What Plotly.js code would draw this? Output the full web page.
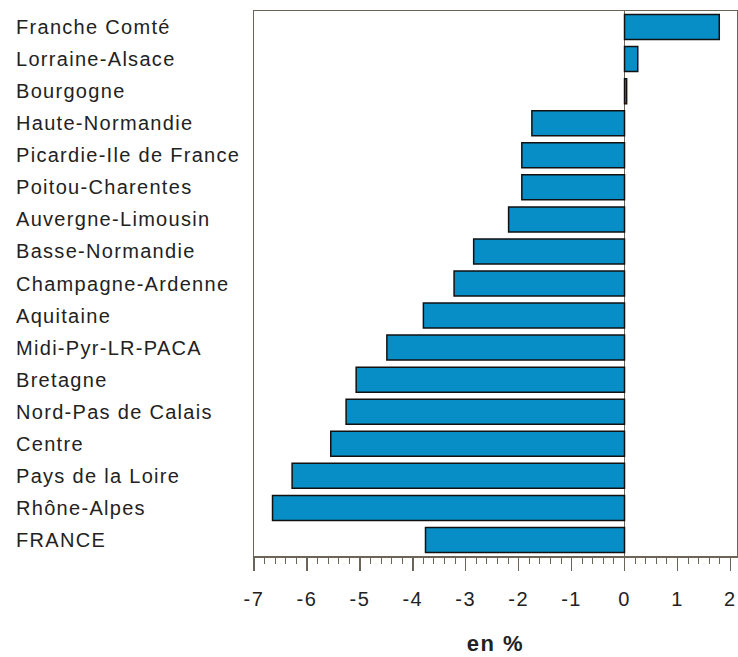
<!DOCTYPE html>
<html>
<head>
<meta charset="utf-8">
<script src="https://cdn.plot.ly/plotly-3.0.1.min.js"></script>
<style>
html,body{margin:0;padding:0;background:#fff;}
#chart{width:738px;height:657px;}
#chart .annotation-text{letter-spacing:1.3px;}
#chart .xtick text{letter-spacing:1.5px;}
#chart .xtitle{letter-spacing:1.5px;}
</style>
</head>
<body>
<div id="chart"></div>
<script>
const categories = ["Franche Comté","Lorraine-Alsace","Bourgogne","Haute-Normandie","Picardie-Ile de France","Poitou-Charentes","Auvergne-Limousin","Basse-Normandie","Champagne-Ardenne","Aquitaine","Midi-Pyr-LR-PACA","Bretagne","Nord-Pas de Calais","Centre","Pays de la Loire","Rhône-Alpes","FRANCE"];
const values = [1.79, 0.25, 0.04, -1.75, -1.94, -1.94, -2.19, -2.85, -3.22, -3.80, -4.49, -5.07, -5.26, -5.55, -6.28, -6.65, -3.76];
const xTicks = [-7,-6,-5,-4,-3,-2,-1,0,1,2];
const xTitle = "en %";

const fontFam = "Liberation Sans, Arial, sans-serif";
const trace = {
  type: "bar", orientation: "h",
  x: values, y: categories,
  marker: {color: "#078ec6", line: {color: "#111", width: 1.5}},
  hoverinfo: "none"
};
const ml = 254, mr = 1, W = 738;
const annotations = categories.map(c => ({
  text: c, x: (14 - ml) / (W - ml - mr), xref: "paper", y: c, yref: "y",
  xanchor: "left", yanchor: "middle", align: "left", showarrow: false,
  font: {family: fontFam, size: 20, color: "#222"}
}));

const layout = {
  width: 738, height: 657,
  margin: {l: ml, r: mr, t: 11, b: 101},
  paper_bgcolor: "#fff", plot_bgcolor: "#fff",
  showlegend: false,
  bargap: 0.22,
  font: {family: fontFam, color: "#222"},
  xaxis: {
    range: [-7, 2.125], tickvals: xTicks, ticktext: xTicks.map(String),
    ticks: "outside", ticklen: 13, tickcolor: "#6b6458", tickwidth: 1.5,
    ticklabelstandoff: 11,
    minor: {dtick: 0.2, tick0: 0, ticks: "outside", ticklen: 6, tickcolor: "#6b6458", tickwidth: 1, showgrid: false},
    showgrid: false, zeroline: true, zerolinecolor: "#6b6458", zerolinewidth: 1.5,
    showline: true, linecolor: "#6b6458", linewidth: 1.5, mirror: true,
    tickfont: {size: 20, color: "#222"},
    title: {text: "<b>" + xTitle + "</b>", font: {size: 22, color: "#222"}, standoff: 27},
    fixedrange: true
  },
  yaxis: {
    type: "category", autorange: false, range: [16.5, -0.5],
    showticklabels: false, ticks: "", showgrid: false, zeroline: false,
    showline: true, linecolor: "#6b6458", linewidth: 1.5, mirror: true,
    fixedrange: true
  },
  annotations: annotations
};
Plotly.newPlot("chart", [trace], layout, {displayModeBar: false, staticPlot: true});
</script>
</body>
</html>
